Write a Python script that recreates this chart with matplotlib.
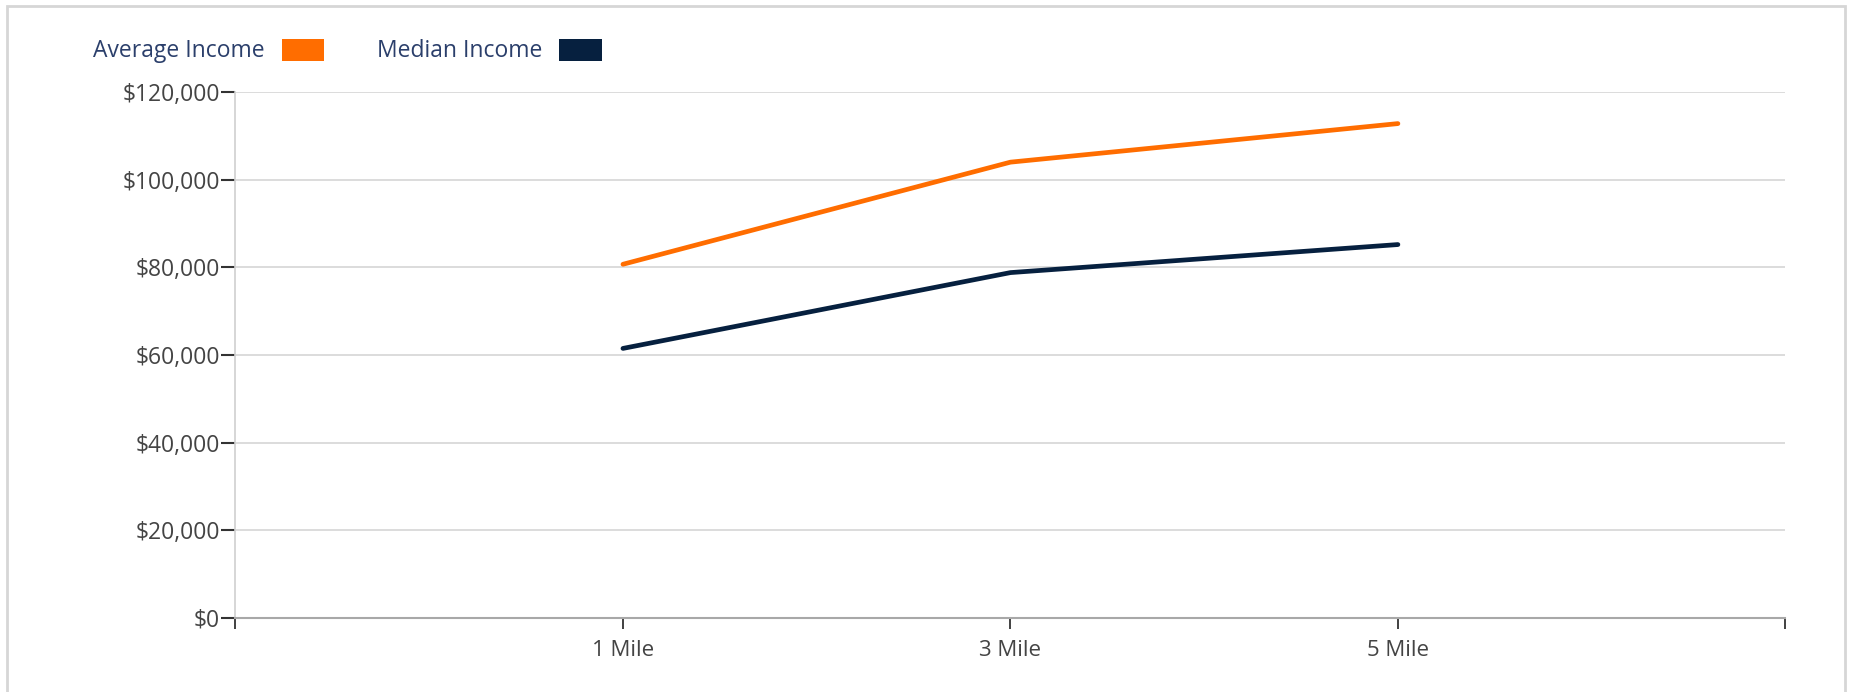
import matplotlib.pyplot as plt
from matplotlib.patches import Patch, Rectangle
from matplotlib.ticker import FuncFormatter

# Chart data
categories = ["1 Mile", "3 Mile", "5 Mile"]
average_income = [80700, 104000, 112800]
median_income = [61500, 78800, 85200]

orange = "#ff6d00"
navy = "#06203f"

plt.rcParams['font.family'] = ['Open Sans', 'DejaVu Sans']

fig = plt.figure(figsize=(18.54, 6.92), dpi=100)
ax = fig.add_axes([0.127, 0.107, 0.836, 0.760])

xpos = list(range(1, len(categories) + 1))
ax.plot(xpos, average_income, color=orange, linewidth=3.4, solid_capstyle='round', zorder=3)
ax.plot(xpos, median_income, color=navy, linewidth=3.4, solid_capstyle='round', zorder=3)

ax.set_xlim(0, len(categories) + 1)
ax.set_ylim(0, 120000)
ax.set_yticks(range(0, 120001, 20000))
ax.yaxis.set_major_formatter(FuncFormatter(lambda v, p: f"${v:,.0f}"))
ax.set_xticks(range(0, len(categories) + 2))
ax.set_xticklabels([""] + categories + [""])

ax.grid(axis='y', color='#d9d9d9', linewidth=1.3, zorder=0)
for side in ['top', 'right']:
    ax.spines[side].set_visible(False)
ax.spines['left'].set_color('#d0d0d0')
ax.spines['left'].set_linewidth(1.2)
ax.spines['bottom'].set_color('#a8a8a8')
ax.spines['bottom'].set_linewidth(1.5)

ax.tick_params(axis='y', length=10, width=1.5, color='#333333', labelsize=16.5,
               labelcolor='#444444', pad=1)
ax.tick_params(axis='x', length=8, width=1.3, color='#333333', labelsize=16,
               labelcolor='#444444', pad=8)

handles = [Patch(facecolor=orange, label="Average Income"),
           Patch(facecolor=navy, label="Median Income")]
fig.legend(handles=handles, loc='upper left', bbox_to_anchor=(0.039, 0.974), ncol=2,
           frameon=False, markerfirst=False, fontsize=16.5, handlelength=1.85,
           handleheight=1.1, columnspacing=2.3, handletextpad=0.75,
           labelcolor='#2b3f6b')

# outer light border
fig.patches.append(Rectangle((0.004, -0.01), 0.991, 1.001, transform=fig.transFigure,
                             fill=False, edgecolor='#d6d6d6', linewidth=2))

fig.savefig("out.png", dpi=100, facecolor='white')
